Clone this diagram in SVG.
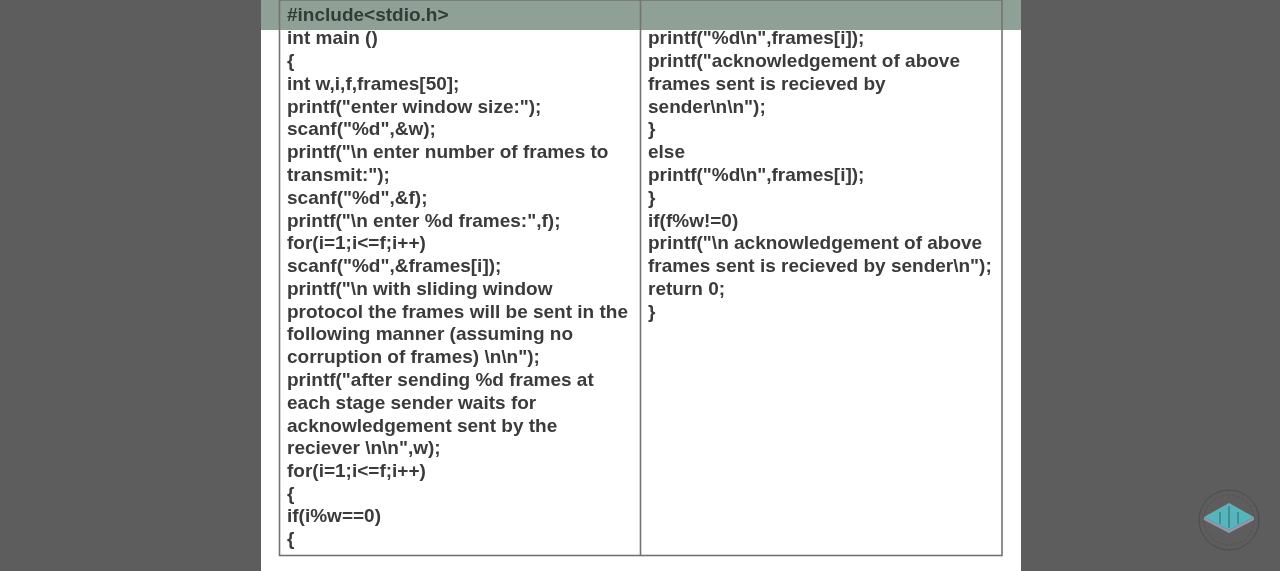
<svg xmlns="http://www.w3.org/2000/svg" width="1280" height="571" viewBox="0 0 1280 571">
<style>
text{font-family:"Liberation Sans",Arial,sans-serif;font-size:19px;font-weight:700;fill:#3a3a3a;stroke:none}
.l{stroke:#737373;stroke-width:1.6;fill:none}
</style>
<defs><filter id="b" x="-5%" y="-5%" width="110%" height="110%"><feGaussianBlur stdDeviation="0.4"/></filter></defs>
<rect width="1280" height="571" fill="#5d5d5d"/>
<rect x="261" y="0" width="760" height="571" fill="#ffffff"/>
<rect id="top-band" x="261" y="0" width="760" height="30" fill="#8fa197"/>
<g id="table">
<rect class="l" x="279.500" y="0" width="722.500" height="555.500"/>
<line class="l" x1="640.500" y1="0" x2="640.500" y2="555.500"/>
</g>
<g id="left-column" filter="url(#b)">
<text x="287" y="21" style="fill:#2f3e37">#include&lt;stdio.h&gt;</text>
<text x="287" y="44">int main ()</text>
<text x="287" y="67">{</text>
<text x="287" y="90">int w,i,f,frames[50];</text>
<text x="287" y="112.500">printf("enter window size:");</text>
<text x="287" y="135">scanf("%d",&amp;w);</text>
<text x="287" y="158">printf("\n enter number of frames to</text>
<text x="287" y="181">transmit:");</text>
<text x="287" y="203.500">scanf("%d",&amp;f);</text>
<text x="287" y="226.500">printf("\n enter %d frames:",f);</text>
<text x="287" y="249">for(i=1;i&lt;=f;i++)</text>
<text x="287" y="272">scanf("%d",&amp;frames[i]);</text>
<text x="287" y="295">printf("\n with sliding window</text>
<text x="287" y="317.500">protocol the frames will be sent in the</text>
<text x="287" y="340">following manner (assuming no</text>
<text x="287" y="363">corruption of frames) \n\n");</text>
<text x="287" y="385.500">printf("after sending %d frames at</text>
<text x="287" y="408.500">each stage sender waits for</text>
<text x="287" y="431.500">acknowledgement sent by the</text>
<text x="287" y="454">reciever \n\n",w);</text>
<text x="287" y="477">for(i=1;i&lt;=f;i++)</text>
<text x="287" y="499.500">{</text>
<text x="287" y="522">if(i%w==0)</text>
<text x="287" y="545">{</text>
</g>
<g id="right-column" filter="url(#b)">
<text x="648" y="44">printf("%d\n",frames[i]);</text>
<text x="648" y="67">printf("acknowledgement of above</text>
<text x="648" y="90">frames sent is recieved by</text>
<text x="648" y="112.500">sender\n\n");</text>
<text x="648" y="135">}</text>
<text x="648" y="158">else</text>
<text x="648" y="181">printf("%d\n",frames[i]);</text>
<text x="648" y="203.500">}</text>
<text x="648" y="226.500">if(f%w!=0)</text>
<text x="648" y="249">printf("\n acknowledgement of above</text>
<text x="648" y="272">frames sent is recieved by sender\n");</text>
<text x="648" y="295">return 0;</text>
<text x="648" y="317.500">}</text>
</g>
<g id="logo" filter="url(#b)">
<circle cx="1229" cy="520" r="30" fill="none" stroke="#4c4c4c" stroke-width="1"/>
<circle cx="1229" cy="520" r="25" fill="none" stroke="#525252" stroke-width="1" stroke-dasharray="3 2"/>
<path d="M1204 517L1229 503L1254 517L1229 530Z" fill="#55b5bd"/>
<path d="M1204 517L1229 530L1254 517L1254 520L1229 533L1204 520Z" fill="#9a94a8"/>
<path d="M1229 506V528M1220 512V524M1238 512V524" stroke="#3f7f88" stroke-width="1.500" fill="none"/>
</g>
</svg>
